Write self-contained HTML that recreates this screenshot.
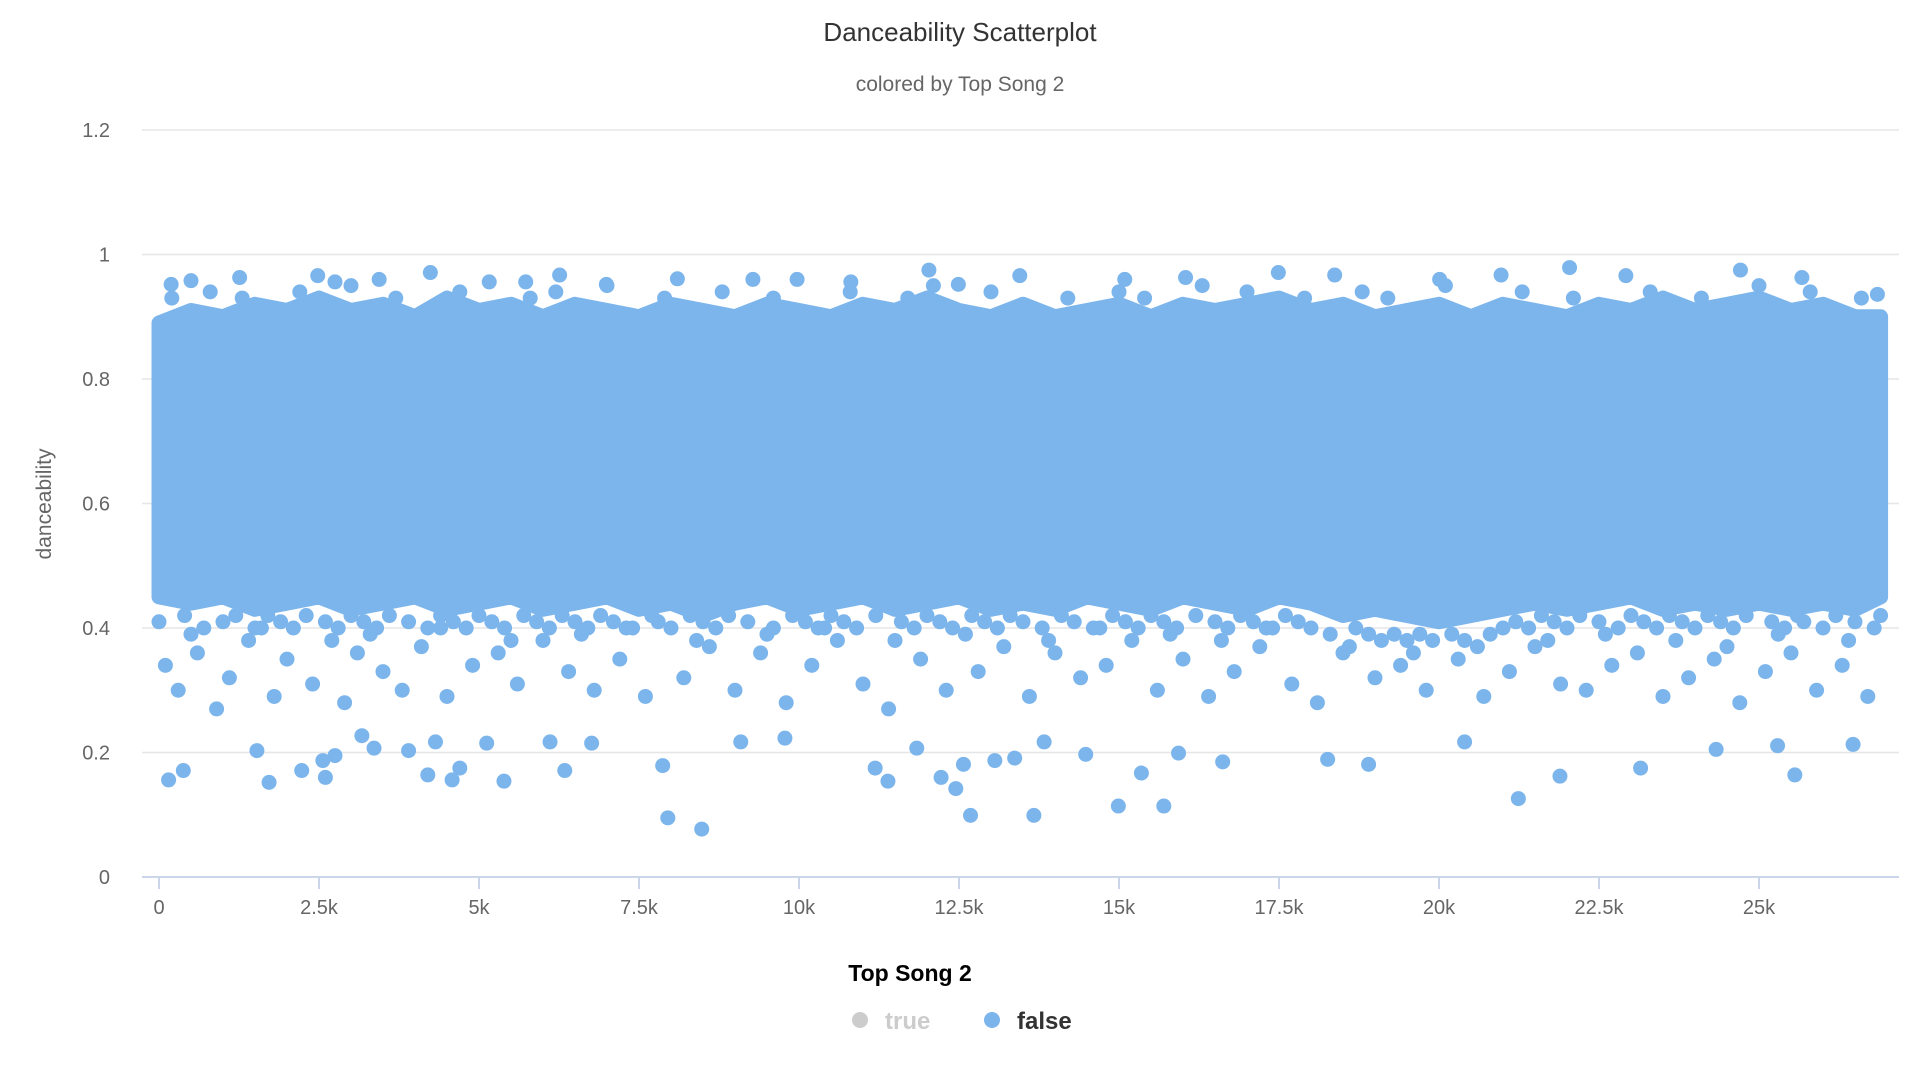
<!DOCTYPE html>
<html><head><meta charset="utf-8"><style>
html,body{margin:0;padding:0;background:#fff;}
svg{display:block;font-family:"Liberation Sans",sans-serif;}
</style></head><body>
<svg id="chart" width="1920" height="1080" viewBox="0 0 1920 1080" xmlns="http://www.w3.org/2000/svg">
<rect width="1920" height="1080" fill="#fff"/>
<text x="960" y="41" text-anchor="middle" font-size="26" fill="#333">Danceability Scatterplot</text>
<text x="960" y="91" text-anchor="middle" font-size="21" fill="#666">colored by Top Song 2</text>
<g id="grid"></g>
<g id="yticks"></g>
<text x="0" y="0" transform="translate(51,504) rotate(-90)" text-anchor="middle" font-size="21" fill="#666">danceability</text>
<g id="plot"></g>
<g id="xaxis"></g>
<text x="910" y="981" text-anchor="middle" font-size="23" font-weight="bold" fill="#000">Top Song 2</text>
<g><circle cx="860" cy="1020" r="8" fill="#ccc"/><text x="885" y="1029" font-size="24" font-weight="bold" fill="#ccc">true</text></g>
<g><circle cx="992" cy="1020" r="8" fill="#7cb5ec"/><text x="1017" y="1029" font-size="24" font-weight="bold" fill="#333">false</text></g>
</svg>
<script>
// data (x in thousands of rows, y = danceability)
const yTicks = [0, 0.2, 0.4, 0.6, 0.8, 1, 1.2];
const yTickLabels = ["0","0.2","0.4","0.6","0.8","1","1.2"];
const xTicks = [0,2.5,5,7.5,10,12.5,15,17.5,20,22.5,25];
const xTickLabels = ["0","2.5k","5k","7.5k","10k","12.5k","15k","17.5k","20k","22.5k","25k"];
const bandX =     [0,0.5,1,1.5,2,2.5,3,3.5,4,4.5,5,5.5,6,6.5,7,7.5,8,8.5,9,9.5,10,10.5,11,11.5,12,12.5,13,13.5,14,14.5,15,15.5,16,16.5,17,17.5,18,18.5,19,19.5,20,20.5,21,21.5,22,22.5,23,23.5,24,24.5,25,25.5,26,26.5,26.9];
const bandUpper = [0.89,0.91,0.90,0.92,0.91,0.93,0.91,0.92,0.90,0.93,0.91,0.92,0.90,0.92,0.91,0.90,0.92,0.91,0.90,0.92,0.91,0.90,0.92,0.91,0.93,0.91,0.90,0.92,0.90,0.91,0.92,0.90,0.92,0.91,0.92,0.93,0.91,0.92,0.90,0.91,0.92,0.90,0.92,0.91,0.90,0.92,0.91,0.93,0.91,0.92,0.93,0.91,0.92,0.90,0.90];
const bandLower = [0.45,0.44,0.45,0.43,0.44,0.45,0.43,0.44,0.45,0.43,0.44,0.45,0.43,0.44,0.45,0.43,0.44,0.42,0.44,0.45,0.43,0.44,0.45,0.43,0.44,0.45,0.43,0.44,0.43,0.45,0.44,0.43,0.45,0.44,0.43,0.45,0.44,0.42,0.43,0.42,0.41,0.42,0.43,0.44,0.43,0.44,0.45,0.43,0.44,0.43,0.44,0.43,0.44,0.43,0.45];
const outX = [0.15,0.38,1.72,1.53,2.23,2.6,2.56,2.75,3.17,3.36,3.9,4.2,4.32,4.58,4.7,5.12,5.39,6.11,6.34,6.76,7.87,7.95,8.48,9.09,9.78,11.19,11.39,11.84,12.22,12.45,12.68,12.57,13.06,13.37,13.67,13.83,14.48,14.99,15.35,15.7,15.93,16.62,18.26,18.9,20.4,21.24,21.89,23.15,24.33,25.29,25.56,26.47,
 0.19,0.5,1.26,2.48,2.75,3.44,4.24,5.16,5.73,6.26,6.99,8.1,9.28,9.97,10.81,12.03,12.49,13.45,15.09,16.04,17.49,18.37,20.01,20.97,22.04,22.92,24.71,25.67,26.85];
const outY = [0.156,0.171,0.152,0.203,0.171,0.16,0.187,0.195,0.227,0.207,0.203,0.164,0.217,0.156,0.175,0.215,0.154,0.217,0.171,0.215,0.179,0.095,0.077,0.217,0.223,0.175,0.154,0.207,0.16,0.142,0.099,0.181,0.187,0.191,0.099,0.217,0.197,0.114,0.167,0.114,0.199,0.185,0.189,0.181,0.217,0.126,0.162,0.175,0.205,0.211,0.164,0.213,
 0.952,0.958,0.963,0.966,0.956,0.96,0.971,0.956,0.956,0.967,0.952,0.961,0.96,0.96,0.956,0.975,0.952,0.966,0.96,0.963,0.971,0.967,0.96,0.967,0.979,0.966,0.975,0.963,0.936];
const fringeX = [0.1,0.3,0.6,0.9,1.1,1.4,1.8,2.0,2.4,2.9,3.1,3.5,3.8,4.1,4.5,4.9,5.3,5.6,6.0,6.4,6.8,7.2,7.6,8.2,8.6,9.0,9.4,9.8,10.2,10.6,11.0,11.4,11.9,12.3,12.8,13.2,13.6,14.0,14.4,14.8,15.2,15.6,16.0,16.4,16.8,17.2,17.7,18.1,18.5,19.0,19.4,19.8,20.3,20.7,21.1,21.5,21.9,22.3,22.7,23.1,23.5,23.9,24.3,24.7,25.1,25.5,25.9,26.3,26.7,
 0.5,1.6,2.7,3.3,4.4,5.5,6.6,7.3,8.4,9.5,10.4,11.5,12.6,13.9,14.7,15.8,16.6,17.4,18.6,19.6,20.6,21.7,22.6,23.7,24.5,25.3,26.4,
 0.2,0.8,1.3,2.2,3.0,3.7,4.7,5.8,6.2,7.0,7.9,8.8,9.6,10.8,11.7,12.1,13.0,14.2,15.0,15.4,16.3,17.0,17.9,18.8,19.2,20.1,21.3,22.1,23.3,24.1,25.0,25.8,26.6];
const fringeY = [0.34,0.30,0.36,0.27,0.32,0.38,0.29,0.35,0.31,0.28,0.36,0.33,0.30,0.37,0.29,0.34,0.36,0.31,0.38,0.33,0.30,0.35,0.29,0.32,0.37,0.30,0.36,0.28,0.34,0.38,0.31,0.27,0.35,0.30,0.33,0.37,0.29,0.36,0.32,0.34,0.38,0.30,0.35,0.29,0.33,0.37,0.31,0.28,0.36,0.32,0.34,0.30,0.35,0.29,0.33,0.37,0.31,0.30,0.34,0.36,0.29,0.32,0.35,0.28,0.33,0.36,0.30,0.34,0.29,
 0.39,0.40,0.38,0.39,0.40,0.38,0.39,0.40,0.38,0.39,0.40,0.38,0.39,0.38,0.40,0.39,0.38,0.40,0.37,0.36,0.37,0.38,0.39,0.38,0.37,0.39,0.38,
 0.93,0.94,0.93,0.94,0.95,0.93,0.94,0.93,0.94,0.95,0.93,0.94,0.93,0.94,0.93,0.95,0.94,0.93,0.94,0.93,0.95,0.94,0.93,0.94,0.93,0.95,0.94,0.93,0.94,0.93,0.95,0.94,0.93];
const fringe2X = [0.0,0.4,0.7,1.0,1.2,1.5,1.7,1.9,2.1,2.3,2.6,2.8,3.0,3.2,3.4,3.6,3.9,4.2,4.4,4.6,4.8,5.0,5.2,5.4,5.7,5.9,6.1,6.3,6.5,6.7,6.9,7.1,7.4,7.7,7.8,8.0,8.3,8.5,8.7,8.9,9.2,9.6,9.9,10.1,10.3,10.5,10.7,10.9,11.2,11.6,11.8,12.0,12.2,12.4,12.7,12.9,13.1,13.3,13.5,13.8,14.1,14.3,14.6,14.9,15.1,15.3,15.5,15.7,15.9,16.2,16.5,16.7,16.9,17.1,17.3,17.6,17.8,18.0,18.3,18.7,18.9,19.1,19.3,19.5,19.7,19.9,20.2,20.4,20.8,21.0,21.2,21.4,21.6,21.8,22.0,22.2,22.5,22.8,23.0,23.2,23.4,23.6,23.8,24.0,24.2,24.4,24.6,24.8,25.2,25.4,25.6,25.7,26.0,26.2,26.5,26.8,26.9];
const fringe2Y = [0.41,0.42,0.40,0.41,0.42,0.40,0.42,0.41,0.40,0.42,0.41,0.40,0.42,0.41,0.40,0.42,0.41,0.40,0.42,0.41,0.40,0.42,0.41,0.40,0.42,0.41,0.40,0.42,0.41,0.40,0.42,0.41,0.40,0.42,0.41,0.40,0.42,0.41,0.40,0.42,0.41,0.40,0.42,0.41,0.40,0.42,0.41,0.40,0.42,0.41,0.40,0.42,0.41,0.40,0.42,0.41,0.40,0.42,0.41,0.40,0.42,0.41,0.40,0.42,0.41,0.40,0.42,0.41,0.40,0.42,0.41,0.40,0.42,0.41,0.40,0.42,0.41,0.40,0.39,0.40,0.39,0.38,0.39,0.38,0.39,0.38,0.39,0.38,0.39,0.40,0.41,0.40,0.42,0.41,0.40,0.42,0.41,0.40,0.42,0.41,0.40,0.42,0.41,0.40,0.42,0.41,0.40,0.42,0.41,0.40,0.42,0.41,0.40,0.42,0.41,0.40,0.42];

const NS = "http://www.w3.org/2000/svg";
const X0 = 159, PXPER_K = 64, Y0 = 877, PXPER_UNIT = 622.5, GX1 = 142, GX2 = 1899;
function xScale(k){ return X0 + k*PXPER_K; }
function yScale(v){ return Y0 - v*PXPER_UNIT; }
function mk(tag, attrs, parent){ const e=document.createElementNS(NS,tag); for(const k in attrs) e.setAttribute(k,attrs[k]); parent.appendChild(e); return e; }

const grid=document.getElementById('grid'), yt=document.getElementById('yticks');
yTicks.forEach((v,i)=>{
  if(v>0){ const l=mk('line',{x1:GX1,x2:GX2,y1:yScale(v),y2:yScale(v),stroke:'#e6e6e6','stroke-width':1.5},grid);
    
     }
  const t=mk('text',{x:110,y:yScale(v)+7,'text-anchor':'end','font-size':20,fill:'#666'},yt);
  t.textContent=yTickLabels[i];
  
  
});

const plot=document.getElementById('plot');
const C='#7cb5ec';
let pts=[];
bandX.forEach((x,i)=>pts.push(xScale(x)+','+yScale(bandUpper[i])));
for(let i=bandX.length-1;i>=0;i--) pts.push(xScale(bandX[i])+','+yScale(bandLower[i]));
const band=mk('polygon',{points:pts.join(' '),fill:C,stroke:C,'stroke-width':15,'stroke-linejoin':'round'},plot);


function drawPts(xs, ys){
  xs.forEach((x,i)=>{
    const c=mk('circle',{cx:xScale(x),cy:yScale(ys[i]),r:7.5,fill:C},plot);
    
    
  });
}
drawPts(fringe2X, fringe2Y);
drawPts(fringeX, fringeY);
drawPts(outX, outY);

const xa=document.getElementById('xaxis');
const al=mk('line',{x1:GX1,x2:GX2,y1:Y0,y2:Y0,stroke:'#ccd6eb','stroke-width':2},xa);


xTicks.forEach((k,i)=>{
  const tl=mk('line',{x1:xScale(k),x2:xScale(k),y1:Y0,y2:Y0+12,stroke:'#ccd6eb','stroke-width':2},xa);
  
  
  const t=mk('text',{x:xScale(k),y:914,'text-anchor':'middle','font-size':20,fill:'#666'},xa);
  t.textContent=xTickLabels[i];
  
  
});
</script>
</body></html>
